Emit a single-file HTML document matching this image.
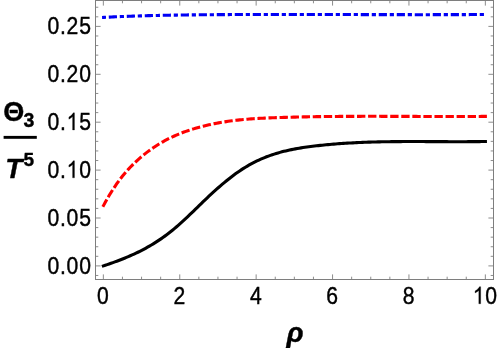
<!DOCTYPE html>
<html><head><meta charset="utf-8"><title>plot</title>
<style>
html,body{margin:0;padding:0;background:#fff;}
body{width:498px;height:348px;overflow:hidden;position:relative;font-family:"Liberation Sans",sans-serif;}
svg{position:absolute;left:0;top:0;display:block;will-change:transform;}
text{font-family:"Liberation Sans",sans-serif;fill:#000;}
</style></head><body>
<svg width="498" height="348" viewBox="0 0 498 348">
<rect x="0" y="0" width="498" height="348" fill="#fff"/>
<g shape-rendering="auto">
<line x1="103.35" y1="279.50" x2="103.35" y2="274.40" stroke="#707070" stroke-width="0.8"/>
<line x1="103.35" y1="0.50" x2="103.35" y2="5.60" stroke="#707070" stroke-width="0.8"/>
<line x1="122.45" y1="279.50" x2="122.45" y2="276.70" stroke="#707070" stroke-width="0.8"/>
<line x1="122.45" y1="0.50" x2="122.45" y2="3.30" stroke="#707070" stroke-width="0.8"/>
<line x1="141.55" y1="279.50" x2="141.55" y2="276.70" stroke="#707070" stroke-width="0.8"/>
<line x1="141.55" y1="0.50" x2="141.55" y2="3.30" stroke="#707070" stroke-width="0.8"/>
<line x1="160.65" y1="279.50" x2="160.65" y2="276.70" stroke="#707070" stroke-width="0.8"/>
<line x1="160.65" y1="0.50" x2="160.65" y2="3.30" stroke="#707070" stroke-width="0.8"/>
<line x1="179.75" y1="279.50" x2="179.75" y2="274.40" stroke="#707070" stroke-width="0.8"/>
<line x1="179.75" y1="0.50" x2="179.75" y2="5.60" stroke="#707070" stroke-width="0.8"/>
<line x1="198.85" y1="279.50" x2="198.85" y2="276.70" stroke="#707070" stroke-width="0.8"/>
<line x1="198.85" y1="0.50" x2="198.85" y2="3.30" stroke="#707070" stroke-width="0.8"/>
<line x1="217.95" y1="279.50" x2="217.95" y2="276.70" stroke="#707070" stroke-width="0.8"/>
<line x1="217.95" y1="0.50" x2="217.95" y2="3.30" stroke="#707070" stroke-width="0.8"/>
<line x1="237.05" y1="279.50" x2="237.05" y2="276.70" stroke="#707070" stroke-width="0.8"/>
<line x1="237.05" y1="0.50" x2="237.05" y2="3.30" stroke="#707070" stroke-width="0.8"/>
<line x1="256.15" y1="279.50" x2="256.15" y2="274.40" stroke="#707070" stroke-width="0.8"/>
<line x1="256.15" y1="0.50" x2="256.15" y2="5.60" stroke="#707070" stroke-width="0.8"/>
<line x1="275.25" y1="279.50" x2="275.25" y2="276.70" stroke="#707070" stroke-width="0.8"/>
<line x1="275.25" y1="0.50" x2="275.25" y2="3.30" stroke="#707070" stroke-width="0.8"/>
<line x1="294.35" y1="279.50" x2="294.35" y2="276.70" stroke="#707070" stroke-width="0.8"/>
<line x1="294.35" y1="0.50" x2="294.35" y2="3.30" stroke="#707070" stroke-width="0.8"/>
<line x1="313.45" y1="279.50" x2="313.45" y2="276.70" stroke="#707070" stroke-width="0.8"/>
<line x1="313.45" y1="0.50" x2="313.45" y2="3.30" stroke="#707070" stroke-width="0.8"/>
<line x1="332.55" y1="279.50" x2="332.55" y2="274.40" stroke="#707070" stroke-width="0.8"/>
<line x1="332.55" y1="0.50" x2="332.55" y2="5.60" stroke="#707070" stroke-width="0.8"/>
<line x1="351.65" y1="279.50" x2="351.65" y2="276.70" stroke="#707070" stroke-width="0.8"/>
<line x1="351.65" y1="0.50" x2="351.65" y2="3.30" stroke="#707070" stroke-width="0.8"/>
<line x1="370.75" y1="279.50" x2="370.75" y2="276.70" stroke="#707070" stroke-width="0.8"/>
<line x1="370.75" y1="0.50" x2="370.75" y2="3.30" stroke="#707070" stroke-width="0.8"/>
<line x1="389.85" y1="279.50" x2="389.85" y2="276.70" stroke="#707070" stroke-width="0.8"/>
<line x1="389.85" y1="0.50" x2="389.85" y2="3.30" stroke="#707070" stroke-width="0.8"/>
<line x1="408.95" y1="279.50" x2="408.95" y2="274.40" stroke="#707070" stroke-width="0.8"/>
<line x1="408.95" y1="0.50" x2="408.95" y2="5.60" stroke="#707070" stroke-width="0.8"/>
<line x1="428.05" y1="279.50" x2="428.05" y2="276.70" stroke="#707070" stroke-width="0.8"/>
<line x1="428.05" y1="0.50" x2="428.05" y2="3.30" stroke="#707070" stroke-width="0.8"/>
<line x1="447.15" y1="279.50" x2="447.15" y2="276.70" stroke="#707070" stroke-width="0.8"/>
<line x1="447.15" y1="0.50" x2="447.15" y2="3.30" stroke="#707070" stroke-width="0.8"/>
<line x1="466.25" y1="279.50" x2="466.25" y2="276.70" stroke="#707070" stroke-width="0.8"/>
<line x1="466.25" y1="0.50" x2="466.25" y2="3.30" stroke="#707070" stroke-width="0.8"/>
<line x1="485.35" y1="279.50" x2="485.35" y2="274.40" stroke="#707070" stroke-width="0.8"/>
<line x1="485.35" y1="0.50" x2="485.35" y2="5.60" stroke="#707070" stroke-width="0.8"/>
<line x1="95.50" y1="275.48" x2="98.30" y2="275.48" stroke="#707070" stroke-width="0.8"/>
<line x1="493.50" y1="275.48" x2="490.70" y2="275.48" stroke="#707070" stroke-width="0.8"/>
<line x1="95.50" y1="265.90" x2="100.60" y2="265.90" stroke="#707070" stroke-width="0.8"/>
<line x1="493.50" y1="265.90" x2="488.40" y2="265.90" stroke="#707070" stroke-width="0.8"/>
<line x1="95.50" y1="256.32" x2="98.30" y2="256.32" stroke="#707070" stroke-width="0.8"/>
<line x1="493.50" y1="256.32" x2="490.70" y2="256.32" stroke="#707070" stroke-width="0.8"/>
<line x1="95.50" y1="246.74" x2="98.30" y2="246.74" stroke="#707070" stroke-width="0.8"/>
<line x1="493.50" y1="246.74" x2="490.70" y2="246.74" stroke="#707070" stroke-width="0.8"/>
<line x1="95.50" y1="237.16" x2="98.30" y2="237.16" stroke="#707070" stroke-width="0.8"/>
<line x1="493.50" y1="237.16" x2="490.70" y2="237.16" stroke="#707070" stroke-width="0.8"/>
<line x1="95.50" y1="227.58" x2="98.30" y2="227.58" stroke="#707070" stroke-width="0.8"/>
<line x1="493.50" y1="227.58" x2="490.70" y2="227.58" stroke="#707070" stroke-width="0.8"/>
<line x1="95.50" y1="218.00" x2="100.60" y2="218.00" stroke="#707070" stroke-width="0.8"/>
<line x1="493.50" y1="218.00" x2="488.40" y2="218.00" stroke="#707070" stroke-width="0.8"/>
<line x1="95.50" y1="208.42" x2="98.30" y2="208.42" stroke="#707070" stroke-width="0.8"/>
<line x1="493.50" y1="208.42" x2="490.70" y2="208.42" stroke="#707070" stroke-width="0.8"/>
<line x1="95.50" y1="198.84" x2="98.30" y2="198.84" stroke="#707070" stroke-width="0.8"/>
<line x1="493.50" y1="198.84" x2="490.70" y2="198.84" stroke="#707070" stroke-width="0.8"/>
<line x1="95.50" y1="189.26" x2="98.30" y2="189.26" stroke="#707070" stroke-width="0.8"/>
<line x1="493.50" y1="189.26" x2="490.70" y2="189.26" stroke="#707070" stroke-width="0.8"/>
<line x1="95.50" y1="179.68" x2="98.30" y2="179.68" stroke="#707070" stroke-width="0.8"/>
<line x1="493.50" y1="179.68" x2="490.70" y2="179.68" stroke="#707070" stroke-width="0.8"/>
<line x1="95.50" y1="170.10" x2="100.60" y2="170.10" stroke="#707070" stroke-width="0.8"/>
<line x1="493.50" y1="170.10" x2="488.40" y2="170.10" stroke="#707070" stroke-width="0.8"/>
<line x1="95.50" y1="160.52" x2="98.30" y2="160.52" stroke="#707070" stroke-width="0.8"/>
<line x1="493.50" y1="160.52" x2="490.70" y2="160.52" stroke="#707070" stroke-width="0.8"/>
<line x1="95.50" y1="150.94" x2="98.30" y2="150.94" stroke="#707070" stroke-width="0.8"/>
<line x1="493.50" y1="150.94" x2="490.70" y2="150.94" stroke="#707070" stroke-width="0.8"/>
<line x1="95.50" y1="141.36" x2="98.30" y2="141.36" stroke="#707070" stroke-width="0.8"/>
<line x1="493.50" y1="141.36" x2="490.70" y2="141.36" stroke="#707070" stroke-width="0.8"/>
<line x1="95.50" y1="131.78" x2="98.30" y2="131.78" stroke="#707070" stroke-width="0.8"/>
<line x1="493.50" y1="131.78" x2="490.70" y2="131.78" stroke="#707070" stroke-width="0.8"/>
<line x1="95.50" y1="122.20" x2="100.60" y2="122.20" stroke="#707070" stroke-width="0.8"/>
<line x1="493.50" y1="122.20" x2="488.40" y2="122.20" stroke="#707070" stroke-width="0.8"/>
<line x1="95.50" y1="112.62" x2="98.30" y2="112.62" stroke="#707070" stroke-width="0.8"/>
<line x1="493.50" y1="112.62" x2="490.70" y2="112.62" stroke="#707070" stroke-width="0.8"/>
<line x1="95.50" y1="103.04" x2="98.30" y2="103.04" stroke="#707070" stroke-width="0.8"/>
<line x1="493.50" y1="103.04" x2="490.70" y2="103.04" stroke="#707070" stroke-width="0.8"/>
<line x1="95.50" y1="93.46" x2="98.30" y2="93.46" stroke="#707070" stroke-width="0.8"/>
<line x1="493.50" y1="93.46" x2="490.70" y2="93.46" stroke="#707070" stroke-width="0.8"/>
<line x1="95.50" y1="83.88" x2="98.30" y2="83.88" stroke="#707070" stroke-width="0.8"/>
<line x1="493.50" y1="83.88" x2="490.70" y2="83.88" stroke="#707070" stroke-width="0.8"/>
<line x1="95.50" y1="74.30" x2="100.60" y2="74.30" stroke="#707070" stroke-width="0.8"/>
<line x1="493.50" y1="74.30" x2="488.40" y2="74.30" stroke="#707070" stroke-width="0.8"/>
<line x1="95.50" y1="64.72" x2="98.30" y2="64.72" stroke="#707070" stroke-width="0.8"/>
<line x1="493.50" y1="64.72" x2="490.70" y2="64.72" stroke="#707070" stroke-width="0.8"/>
<line x1="95.50" y1="55.14" x2="98.30" y2="55.14" stroke="#707070" stroke-width="0.8"/>
<line x1="493.50" y1="55.14" x2="490.70" y2="55.14" stroke="#707070" stroke-width="0.8"/>
<line x1="95.50" y1="45.56" x2="98.30" y2="45.56" stroke="#707070" stroke-width="0.8"/>
<line x1="493.50" y1="45.56" x2="490.70" y2="45.56" stroke="#707070" stroke-width="0.8"/>
<line x1="95.50" y1="35.98" x2="98.30" y2="35.98" stroke="#707070" stroke-width="0.8"/>
<line x1="493.50" y1="35.98" x2="490.70" y2="35.98" stroke="#707070" stroke-width="0.8"/>
<line x1="95.50" y1="26.40" x2="100.60" y2="26.40" stroke="#707070" stroke-width="0.8"/>
<line x1="493.50" y1="26.40" x2="488.40" y2="26.40" stroke="#707070" stroke-width="0.8"/>
<line x1="95.50" y1="16.82" x2="98.30" y2="16.82" stroke="#707070" stroke-width="0.8"/>
<line x1="493.50" y1="16.82" x2="490.70" y2="16.82" stroke="#707070" stroke-width="0.8"/>
<line x1="95.50" y1="7.24" x2="98.30" y2="7.24" stroke="#707070" stroke-width="0.8"/>
<line x1="493.50" y1="7.24" x2="490.70" y2="7.24" stroke="#707070" stroke-width="0.8"/>
<rect x="95.5" y="0.5" width="398.0" height="279.0" fill="none" stroke="#7e7e7e" stroke-width="1"/>
</g>
<g fill="none" stroke-width="3.1" stroke-linejoin="round">
<path d="M103.35,17.49 L105.27,17.39 L107.19,17.28 L109.11,17.18 L111.03,17.09 L112.95,16.99 L114.87,16.90 L116.79,16.81 L118.71,16.72 L120.63,16.64 L122.55,16.56 L124.47,16.48 L126.39,16.40 L128.31,16.33 L130.23,16.26 L132.15,16.19 L134.07,16.12 L135.99,16.06 L137.91,15.99 L139.83,15.93 L141.75,15.87 L143.67,15.82 L145.59,15.76 L147.51,15.71 L149.43,15.66 L151.35,15.61 L153.27,15.56 L155.19,15.51 L157.11,15.47 L159.03,15.43 L160.95,15.38 L162.87,15.34 L164.79,15.31 L166.71,15.27 L168.62,15.23 L170.54,15.20 L172.46,15.17 L174.38,15.14 L176.30,15.11 L178.22,15.08 L180.14,15.05 L182.06,15.02 L183.98,14.99 L185.90,14.97 L187.82,14.95 L189.74,14.92 L191.66,14.90 L193.58,14.88 L195.50,14.86 L197.42,14.84 L199.34,14.82 L201.26,14.80 L203.18,14.78 L205.10,14.76 L207.02,14.74 L208.94,14.73 L210.86,14.71 L212.78,14.69 L214.70,14.68 L216.62,14.66 L218.54,14.65 L220.46,14.64 L222.38,14.62 L224.30,14.61 L226.22,14.60 L228.14,14.59 L230.06,14.58 L231.98,14.57 L233.90,14.56 L235.82,14.55 L237.74,14.54 L239.66,14.53 L241.58,14.52 L243.50,14.51 L245.42,14.51 L247.34,14.50 L249.26,14.49 L251.18,14.49 L253.10,14.48 L255.02,14.47 L256.94,14.47 L258.86,14.47 L260.78,14.46 L262.70,14.46 L264.62,14.45 L266.54,14.45 L268.46,14.45 L270.38,14.45 L272.30,14.44 L274.22,14.44 L276.14,14.44 L278.06,14.44 L279.98,14.44 L281.90,14.44 L283.82,14.44 L285.74,14.44 L287.66,14.44 L289.58,14.44 L291.50,14.44 L293.42,14.44 L295.33,14.44 L297.25,14.44 L299.17,14.45 L301.09,14.45 L303.01,14.45 L304.93,14.45 L306.85,14.45 L308.77,14.46 L310.69,14.46 L312.61,14.46 L314.53,14.47 L316.45,14.47 L318.37,14.47 L320.29,14.48 L322.21,14.48 L324.13,14.48 L326.05,14.49 L327.97,14.49 L329.89,14.50 L331.81,14.50 L333.73,14.51 L335.65,14.51 L337.57,14.52 L339.49,14.52 L341.41,14.52 L343.33,14.53 L345.25,14.53 L347.17,14.54 L349.09,14.54 L351.01,14.55 L352.93,14.55 L354.85,14.56 L356.77,14.56 L358.69,14.57 L360.61,14.57 L362.53,14.58 L364.45,14.58 L366.37,14.59 L368.29,14.59 L370.21,14.60 L372.13,14.60 L374.05,14.61 L375.97,14.61 L377.89,14.62 L379.81,14.62 L381.73,14.62 L383.65,14.63 L385.57,14.63 L387.49,14.64 L389.41,14.64 L391.33,14.64 L393.25,14.65 L395.17,14.65 L397.09,14.65 L399.01,14.66 L400.93,14.66 L402.85,14.66 L404.77,14.66 L406.69,14.67 L408.61,14.67 L410.53,14.67 L412.45,14.67 L414.37,14.67 L416.29,14.68 L418.21,14.68 L420.13,14.68 L422.04,14.68 L423.96,14.68 L425.88,14.68 L427.80,14.68 L429.72,14.68 L431.64,14.68 L433.56,14.67 L435.48,14.67 L437.40,14.67 L439.32,14.67 L441.24,14.67 L443.16,14.66 L445.08,14.66 L447.00,14.66 L448.92,14.65 L450.84,14.65 L452.76,14.64 L454.68,14.64 L456.60,14.63 L458.52,14.63 L460.44,14.62 L462.36,14.61 L464.28,14.61 L466.20,14.60 L468.12,14.59 L470.04,14.58 L471.96,14.57 L473.88,14.56 L475.80,14.55 L477.72,14.54 L479.64,14.53 L481.56,14.52 L483.48,14.51 L485.40,14.50" stroke="#0000f5" stroke-dasharray="4.2 2.8 8.2 2.8" stroke-dashoffset="0.25" transform="translate(-1.3,0)"/>
<path d="M102.64,207.20 L103.35,205.88 L105.27,202.31 L107.19,198.88 L109.11,195.59 L111.03,192.44 L112.95,189.42 L114.87,186.52 L116.79,183.74 L118.71,181.08 L120.63,178.53 L122.55,176.08 L124.47,173.74 L126.39,171.50 L128.31,169.34 L130.23,167.28 L132.15,165.30 L134.07,163.39 L135.99,161.57 L137.91,159.80 L139.83,158.11 L141.75,156.47 L143.67,154.89 L145.59,153.36 L147.51,151.89 L149.43,150.46 L151.35,149.08 L153.27,147.75 L155.19,146.47 L157.11,145.23 L159.03,144.04 L160.95,142.89 L162.87,141.79 L164.79,140.72 L166.71,139.70 L168.62,138.71 L170.54,137.76 L172.46,136.85 L174.38,135.97 L176.30,135.13 L178.22,134.31 L180.14,133.53 L182.06,132.78 L183.98,132.06 L185.90,131.37 L187.82,130.71 L189.74,130.07 L191.66,129.45 L193.58,128.86 L195.50,128.29 L197.42,127.74 L199.34,127.21 L201.26,126.70 L203.18,126.21 L205.10,125.74 L207.02,125.28 L208.94,124.84 L210.86,124.42 L212.78,124.01 L214.70,123.62 L216.62,123.24 L218.54,122.88 L220.46,122.54 L222.38,122.21 L224.30,121.90 L226.22,121.60 L228.14,121.32 L230.06,121.05 L231.98,120.79 L233.90,120.55 L235.82,120.32 L237.74,120.10 L239.66,119.89 L241.58,119.70 L243.50,119.51 L245.42,119.34 L247.34,119.18 L249.26,119.02 L251.18,118.88 L253.10,118.74 L255.02,118.62 L256.94,118.50 L258.86,118.39 L260.78,118.28 L262.70,118.18 L264.62,118.09 L266.54,118.00 L268.46,117.92 L270.38,117.84 L272.30,117.77 L274.22,117.70 L276.14,117.63 L278.06,117.57 L279.98,117.51 L281.90,117.45 L283.82,117.39 L285.74,117.33 L287.66,117.28 L289.58,117.23 L291.50,117.18 L293.42,117.13 L295.33,117.08 L297.25,117.04 L299.17,116.99 L301.09,116.95 L303.01,116.91 L304.93,116.87 L306.85,116.84 L308.77,116.80 L310.69,116.77 L312.61,116.73 L314.53,116.70 L316.45,116.67 L318.37,116.65 L320.29,116.62 L322.21,116.59 L324.13,116.57 L326.05,116.55 L327.97,116.53 L329.89,116.51 L331.81,116.49 L333.73,116.47 L335.65,116.45 L337.57,116.44 L339.49,116.42 L341.41,116.41 L343.33,116.40 L345.25,116.39 L347.17,116.38 L349.09,116.37 L351.01,116.36 L352.93,116.35 L354.85,116.34 L356.77,116.34 L358.69,116.33 L360.61,116.33 L362.53,116.32 L364.45,116.32 L366.37,116.32 L368.29,116.32 L370.21,116.32 L372.13,116.32 L374.05,116.32 L375.97,116.32 L377.89,116.32 L379.81,116.32 L381.73,116.33 L383.65,116.33 L385.57,116.33 L387.49,116.34 L389.41,116.34 L391.33,116.35 L393.25,116.35 L395.17,116.36 L397.09,116.36 L399.01,116.37 L400.93,116.37 L402.85,116.38 L404.77,116.38 L406.69,116.39 L408.61,116.40 L410.53,116.40 L412.45,116.41 L414.37,116.42 L416.29,116.42 L418.21,116.43 L420.13,116.44 L422.04,116.44 L423.96,116.45 L425.88,116.45 L427.80,116.46 L429.72,116.46 L431.64,116.47 L433.56,116.47 L435.48,116.48 L437.40,116.48 L439.32,116.49 L441.24,116.49 L443.16,116.49 L445.08,116.50 L447.00,116.50 L448.92,116.50 L450.84,116.50 L452.76,116.50 L454.68,116.50 L456.60,116.50 L458.52,116.50 L460.44,116.50 L462.36,116.50 L464.28,116.49 L466.20,116.49 L468.12,116.48 L470.04,116.48 L471.96,116.47 L473.88,116.46 L475.80,116.46 L477.72,116.45 L479.64,116.44 L481.56,116.42 L483.48,116.41 L485.40,116.40 L486.90,116.39" stroke="#ff0000" stroke-dasharray="8.36 2.705" stroke-dashoffset="-0.4"/>
<path d="M103.35,265.88 L105.27,265.24 L107.19,264.60 L109.11,263.94 L111.03,263.27 L112.95,262.59 L114.87,261.90 L116.79,261.20 L118.71,260.48 L120.63,259.74 L122.55,258.99 L124.47,258.22 L126.39,257.43 L128.31,256.62 L130.23,255.79 L132.15,254.94 L134.07,254.06 L135.99,253.17 L137.91,252.24 L139.83,251.29 L141.75,250.32 L143.67,249.31 L145.59,248.28 L147.51,247.22 L149.43,246.12 L151.35,245.00 L153.27,243.84 L155.19,242.65 L157.11,241.42 L159.03,240.15 L160.95,238.85 L162.87,237.51 L164.79,236.13 L166.71,234.71 L168.62,233.25 L170.54,231.75 L172.46,230.20 L174.38,228.61 L176.30,226.98 L178.22,225.31 L180.14,223.61 L182.06,221.88 L183.98,220.12 L185.90,218.33 L187.82,216.53 L189.74,214.70 L191.66,212.87 L193.58,211.02 L195.50,209.17 L197.42,207.31 L199.34,205.45 L201.26,203.59 L203.18,201.74 L205.10,199.89 L207.02,198.06 L208.94,196.24 L210.86,194.45 L212.78,192.67 L214.70,190.92 L216.62,189.19 L218.54,187.50 L220.46,185.82 L222.38,184.18 L224.30,182.57 L226.22,180.99 L228.14,179.44 L230.06,177.93 L231.98,176.45 L233.90,175.01 L235.82,173.61 L237.74,172.25 L239.66,170.92 L241.58,169.64 L243.50,168.40 L245.42,167.21 L247.34,166.06 L249.26,164.95 L251.18,163.89 L253.10,162.87 L255.02,161.89 L256.94,160.95 L258.86,160.05 L260.78,159.18 L262.70,158.35 L264.62,157.56 L266.54,156.80 L268.46,156.08 L270.38,155.39 L272.30,154.73 L274.22,154.10 L276.14,153.49 L278.06,152.92 L279.98,152.38 L281.90,151.86 L283.82,151.36 L285.74,150.89 L287.66,150.45 L289.58,150.02 L291.50,149.62 L293.42,149.24 L295.33,148.87 L297.25,148.52 L299.17,148.19 L301.09,147.88 L303.01,147.58 L304.93,147.30 L306.85,147.02 L308.77,146.76 L310.69,146.51 L312.61,146.27 L314.53,146.04 L316.45,145.82 L318.37,145.60 L320.29,145.39 L322.21,145.19 L324.13,144.99 L326.05,144.81 L327.97,144.62 L329.89,144.45 L331.81,144.28 L333.73,144.12 L335.65,143.96 L337.57,143.82 L339.49,143.67 L341.41,143.53 L343.33,143.40 L345.25,143.28 L347.17,143.16 L349.09,143.04 L351.01,142.93 L352.93,142.83 L354.85,142.73 L356.77,142.64 L358.69,142.55 L360.61,142.46 L362.53,142.38 L364.45,142.31 L366.37,142.24 L368.29,142.17 L370.21,142.11 L372.13,142.05 L374.05,142.00 L375.97,141.95 L377.89,141.90 L379.81,141.86 L381.73,141.82 L383.65,141.78 L385.57,141.75 L387.49,141.72 L389.41,141.69 L391.33,141.66 L393.25,141.64 L395.17,141.62 L397.09,141.61 L399.01,141.59 L400.93,141.58 L402.85,141.57 L404.77,141.57 L406.69,141.56 L408.61,141.56 L410.53,141.55 L412.45,141.55 L414.37,141.55 L416.29,141.56 L418.21,141.56 L420.13,141.56 L422.04,141.57 L423.96,141.57 L425.88,141.58 L427.80,141.59 L429.72,141.60 L431.64,141.60 L433.56,141.61 L435.48,141.62 L437.40,141.63 L439.32,141.64 L441.24,141.65 L443.16,141.66 L445.08,141.66 L447.00,141.67 L448.92,141.68 L450.84,141.68 L452.76,141.69 L454.68,141.69 L456.60,141.69 L458.52,141.69 L460.44,141.69 L462.36,141.69 L464.28,141.68 L466.20,141.68 L468.12,141.67 L470.04,141.66 L471.96,141.65 L473.88,141.64 L475.80,141.62 L477.72,141.60 L479.64,141.58 L481.56,141.55 L483.48,141.53 L485.40,141.50" stroke="#000" stroke-linecap="square"/>
</g>
<g stroke="#000" stroke-width="0.42"><g transform="translate(90.90,34.15) scale(0.888,1)"><text x="-49.02 -34.89 -27.38 -13.24" y="0" font-size="23.8">0.25</text></g>
<g transform="translate(90.90,82.05) scale(0.888,1)"><text x="-49.02 -34.89 -27.38 -13.24" y="0" font-size="23.8">0.20</text></g>
<g transform="translate(90.90,129.95) scale(0.888,1)"><text x="-49.02 -34.89" y="0" font-size="23.8">0.</text><path d="M763,0L583,0L583,1147Q518,1085 412.5,1023Q307,961 223,930L223,1104Q374,1175 487,1276Q600,1377 647,1472L763,1472Z" transform="translate(-27.38,0) scale(0.01162,-0.01162)" fill="#000" stroke-width="25.8"/><text x="-13.24" y="0" font-size="23.8">5</text></g>
<g transform="translate(90.90,177.85) scale(0.888,1)"><text x="-49.02 -34.89" y="0" font-size="23.8">0.</text><path d="M763,0L583,0L583,1147Q518,1085 412.5,1023Q307,961 223,930L223,1104Q374,1175 487,1276Q600,1377 647,1472L763,1472Z" transform="translate(-27.38,0) scale(0.01162,-0.01162)" fill="#000" stroke-width="25.8"/><text x="-13.24" y="0" font-size="23.8">0</text></g>
<g transform="translate(90.90,225.75) scale(0.888,1)"><text x="-49.02 -34.89 -27.38 -13.24" y="0" font-size="23.8">0.05</text></g>
<g transform="translate(90.90,273.65) scale(0.888,1)"><text x="-49.02 -34.89 -27.38 -13.24" y="0" font-size="23.8">0.00</text></g>
<g transform="translate(102.95,303.75) scale(0.888,1)"><text x="-6.62" y="0" font-size="23.8">0</text></g>
<g transform="translate(179.35,303.75) scale(0.888,1)"><text x="-6.62" y="0" font-size="23.8">2</text></g>
<g transform="translate(255.75,303.75) scale(0.888,1)"><text x="-6.62" y="0" font-size="23.8">4</text></g>
<g transform="translate(332.15,303.75) scale(0.888,1)"><text x="-6.62" y="0" font-size="23.8">6</text></g>
<g transform="translate(408.55,303.75) scale(0.888,1)"><text x="-6.62" y="0" font-size="23.8">8</text></g>
<g transform="translate(484.95,303.75) scale(0.888,1)"><path d="M763,0L583,0L583,1147Q518,1085 412.5,1023Q307,961 223,930L223,1104Q374,1175 487,1276Q600,1377 647,1472L763,1472Z" transform="translate(-13.69,0) scale(0.01162,-0.01162)" fill="#000" stroke-width="25.8"/><text x="0.45" y="0" font-size="23.8">0</text></g></g>
<!-- y label -->
<g stroke="#000" stroke-width="0.38" stroke-linejoin="round"><text x="3.2" y="121.4" font-size="27" font-weight="bold">Θ</text>
<text x="23.6" y="126.8" font-size="19.5" font-weight="bold">3</text>
<rect x="3.6" y="135.9" width="33.2" height="2.9" fill="#000" stroke="none"/>
<text x="5.3" y="177.6" font-size="27.9" font-weight="bold" font-style="italic">T</text>
<text x="23.6" y="165.7" font-size="19" font-weight="bold">5</text>
<!-- x label -->
<text transform="translate(286.4,341.5) scale(1.03,1)" x="0" y="0" font-size="27.2" font-weight="bold" font-style="italic">ρ</text></g>
</svg>
</body></html>
